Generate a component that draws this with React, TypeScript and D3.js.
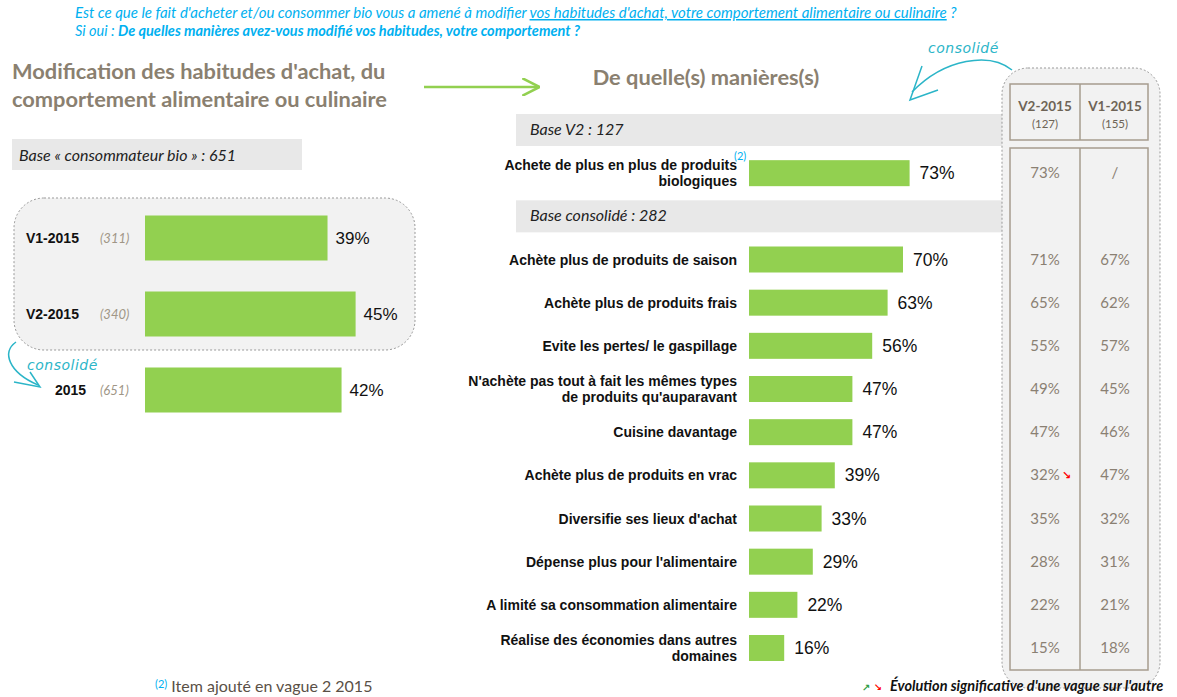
import React from "react";
import * as d3 from "d3";

// left panel
const waveKeys = ["V1-2015", "V2-2015", "2015"];
const waveBases = ["(311)", "(340)", "(651)"];
const waveValues = [39, 45, 42];

// right panel
const bioLabel = ["Achete de plus en plus de produits", "biologiques"];
const bioValue = 73;
const itemLabels = [
  ["Achète plus de produits de saison"],
  ["Achète plus de produits frais"],
  ["Evite les pertes/ le gaspillage"],
  ["N'achète pas tout à fait les mêmes types", "de produits qu'auparavant"],
  ["Cuisine davantage"],
  ["Achète plus de produits en vrac"],
  ["Diversifie ses lieux d'achat"],
  ["Dépense plus pour l'alimentaire"],
  ["A limité sa consommation alimentaire"],
  ["Réalise des économies dans autres", "domaines"],
];
const itemValues = [70, 63, 56, 47, 47, 39, 33, 29, 22, 16];

// table columns
const tableHeaders = [["V2-2015", "(127)"], ["V1-2015", "(155)"]];
const bioTable = ["73%", "/"];
const v2Table = ["71%", "65%", "55%", "49%", "47%", "32%", "35%", "28%", "22%", "15%"];
const v1Table = ["67%", "62%", "57%", "45%", "46%", "47%", "32%", "31%", "21%", "18%"];
const downFlags = [false, false, false, false, false, true, false, false, false, false];

const GREEN = "#92d050";
const BAND = "#e8e8e8";
const TITLE = "#8a8070";
const CYAN = "#00b0f0";
const SCRIPT = "#2bb5c8";
const CELL = "#8a8072";
const BORDER = "#a69c8e";
const ARIAL = "'Liberation Sans', Arial, sans-serif";
const CAL = "Lato, 'Open Sans', sans-serif";

const App = () => {
  const W = 1177, H = 697;

  const xL = d3.scaleLinear().domain([0, 100]).range([145, 613]);
  const yL = d3.scalePoint().domain(waveKeys).range([238, 390]);

  const rowKeys = ["baseV2", "bio", "baseCons", ...itemLabels.map((_, i) => "i" + i)];
  const yR = d3.scalePoint().domain(rowKeys).range([130, 648]);
  const xR = d3.scaleLinear().domain([0, 100]).range([749, 969]);

  const colX = [1045, 1115];
  const barHL = 45, barHR = 26;

  const label = (lines: string[], y: number) => (
    <text x={737} textAnchor="end" fontFamily={ARIAL} fontWeight="bold" fontSize={14} fill="#111">
      {lines.map((l, j) => (
        <tspan key={j} x={737} y={y + 5 + (j - (lines.length - 1) / 2) * 16}>{l}</tspan>
      ))}
    </text>
  );

  return (
    <svg width={W} height={H} style={{ position: "absolute", left: 0, top: 0, background: "#fff" }}>
      <defs>
        <marker id="ga" viewBox="0 0 10 10" refX="9" refY="5" markerWidth="7" markerHeight="7" orient="auto">
          <path d="M0,0 L10,5 L0,10" fill="none" stroke={GREEN} strokeWidth={1.5} />
        </marker>
      </defs>

      {/* question */}
      <text x={75} y={18} fontFamily={CAL} fontStyle="italic" fontSize={15} fill={CYAN}>
        Est ce que le fait d'acheter et/ou consommer bio vous a amené à modifier{" "}
        <tspan textDecoration="underline">vos habitudes d'achat, votre comportement alimentaire ou culinaire</tspan> ?
      </text>
      <text x={75} y={36} fontFamily={CAL} fontStyle="italic" fontSize={14.5} fill={CYAN}>
        Si oui : <tspan fontWeight="bold">De quelles manières avez-vous modifié vos habitudes, votre comportement ?</tspan>
      </text>

      {/* titles */}
      <text x={12} y={79} fontFamily={CAL} fontWeight="bold" fontSize={21.8} fill={TITLE}>Modification des habitudes d'achat, du</text>
      <text x={12} y={107} fontFamily={CAL} fontWeight="bold" fontSize={21.8} fill={TITLE}>comportement alimentaire ou culinaire</text>
      <line x1={424} y1={87} x2={538} y2={87} stroke={GREEN} strokeWidth={2.5} markerEnd="url(#ga)" />
      <text x={706} y={85} textAnchor="middle" fontFamily={CAL} fontWeight="bold" fontSize={21.8} fill={TITLE}>De quelle(s) manières(s)</text>

      {/* left panel */}
      <rect x={12} y={139} width={290} height={31} fill={BAND} />
      <text x={19} y={161} fontFamily={CAL} fontStyle="italic" fontSize={16} fill="#222">Base « consommateur bio » : 651</text>
      <rect x={14} y={198} width={401} height={152} rx={30} fill="#f2f2f2" stroke="#999" strokeDasharray="2,2" />
      {waveKeys.map((k, i) => {
        const y = yL(k)!;
        return (
          <g key={k}>
            <text x={i < 2 ? 26 : 55} y={y + 5} fontFamily={ARIAL} fontWeight="bold" fontSize={14} fill="#111">{k}</text>
            <text x={100} y={y + 5} fontFamily={CAL} fontStyle="italic" fontSize={13} fill="#a09686">{waveBases[i]}</text>
            <rect x={xL(0)} y={y - barHL / 2} width={xL(waveValues[i]) - xL(0)} height={barHL} fill={GREEN} />
            <text x={xL(waveValues[i]) + 8} y={y + 6} fontFamily={ARIAL} fontSize={17} fill="#111">{waveValues[i]}%</text>
          </g>
        );
      })}
      {/* consolidé annotation left */}
      <path d="M16,342 C2,352 8,372 38,385" fill="none" stroke={SCRIPT} strokeWidth={1.5} />
      <path d="M14,382 L40,387 L30,372" fill="none" stroke={SCRIPT} strokeWidth={1.5} />
      <text x={27} y={370} fontFamily="'DejaVu Sans', sans-serif" fontStyle="italic" fontSize={14} fill={SCRIPT} letterSpacing={0.5}>consolidé</text>

      {/* right panel bands */}
      <rect x={516} y={yR("baseV2")! - 16} width={644} height={32} fill={BAND} />
      <text x={530} y={yR("baseV2")! + 5} fontFamily={CAL} fontStyle="italic" fontSize={16} fill="#222">Base V2 :  127</text>
      <rect x={516} y={yR("baseCons")! - 16} width={644} height={32} fill={BAND} />
      <text x={530} y={yR("baseCons")! + 5} fontFamily={CAL} fontStyle="italic" fontSize={16} fill="#222">Base consolidé :  282</text>

      {/* table box */}
      <rect x={1002} y={68} width={158} height={620} rx={26} fill="#f2f2f2" stroke="#999" strokeDasharray="2,2" />
      <rect x={1010} y={84} width={138} height={56} fill="#f2f2f2" stroke={BORDER} strokeWidth={1.5} />
      <line x1={1080} y1={84} x2={1080} y2={140} stroke={BORDER} strokeWidth={1.5} />
      {tableHeaders.map((h, i) => (
        <g key={i}>
          <text x={colX[i]} y={111} textAnchor="middle" fontFamily={CAL} fontWeight="bold" fontSize={13.5} fill="#6e6456">{h[0]}</text>
          <text x={colX[i]} y={128} textAnchor="middle" fontFamily={CAL} fontSize={11.5} fill="#6e6456">{h[1]}</text>
        </g>
      ))}
      <rect x={1010} y={148} width={138} height={522} fill="#f2f2f2" stroke={BORDER} strokeWidth={1.5} />
      <line x1={1080} y1={148} x2={1080} y2={670} stroke={BORDER} strokeWidth={1.5} />

      {/* consolidé annotation right */}
      <text x={928} y={53} fontFamily="'DejaVu Sans', sans-serif" fontStyle="italic" fontSize={14} fill={SCRIPT} letterSpacing={0.5}>consolidé</text>
      <path d="M1012,70 C990,52 945,58 912,92" fill="none" stroke={SCRIPT} strokeWidth={1.5} />
      <path d="M922,66 L910,100 L938,90" fill="none" stroke={SCRIPT} strokeWidth={1.5} />

      {/* bio row */}
      {label(bioLabel, yR("bio")!)}
      <text x={734} y={160} fontFamily={CAL} fontSize={11} fill={CYAN}>(2)</text>
      <rect x={xR(0)} y={yR("bio")! - barHR / 2} width={xR(bioValue) - xR(0)} height={barHR} fill={GREEN} />
      <text x={xR(bioValue) + 10} y={yR("bio")! + 6} fontFamily={ARIAL} fontSize={17.5} fill="#111">{bioValue}%</text>
      {bioTable.map((v, c) => (
        <text key={c} x={colX[c]} y={yR("bio")! + 5} textAnchor="middle" fontFamily={CAL} fontSize={15} fill={CELL}>{v}</text>
      ))}

      {/* consolidated items */}
      {itemLabels.map((lines, i) => {
        const y = yR("i" + i)!;
        const v = itemValues[i];
        return (
          <g key={i}>
            {label(lines, y)}
            <rect x={xR(0)} y={y - barHR / 2} width={xR(v) - xR(0)} height={barHR} fill={GREEN} />
            <text x={xR(v) + 10} y={y + 6} fontFamily={ARIAL} fontSize={17.5} fill="#111">{v}%</text>
            <text x={colX[0]} y={y + 5} textAnchor="middle" fontFamily={CAL} fontSize={15} fill={CELL}>{v2Table[i]}</text>
            <text x={colX[1]} y={y + 5} textAnchor="middle" fontFamily={CAL} fontSize={15} fill={CELL}>{v1Table[i]}</text>
            {downFlags[i] && (
              <text x={colX[0] + 17} y={y + 4} fontFamily="'DejaVu Sans', sans-serif" fontWeight="bold" fontSize={11} fill="#ff0000">↘</text>
            )}
          </g>
        );
      })}

      {/* footnotes */}
      <text x={155} y={692} fontFamily={CAL} fontSize={16} fill="#5a5046">
        <tspan fontSize={11} fill={CYAN} dy={-4}>(2)</tspan>
        <tspan dy={4}> Item ajouté en vague 2 2015</tspan>
      </text>
      <text x={862} y={691} fontFamily="'DejaVu Sans', sans-serif" fontSize={10} fontWeight="bold">
        <tspan fill="#2e9d3f">↗</tspan><tspan fill="#ff0000"> ↘</tspan>
      </text>
      <text x={890} y={691} fontFamily={CAL} fontStyle="italic" fontWeight="bold" fontSize={14.5} fill="#111">Évolution significative d'une vague sur l'autre</text>
    </svg>
  );
};

export default App;
